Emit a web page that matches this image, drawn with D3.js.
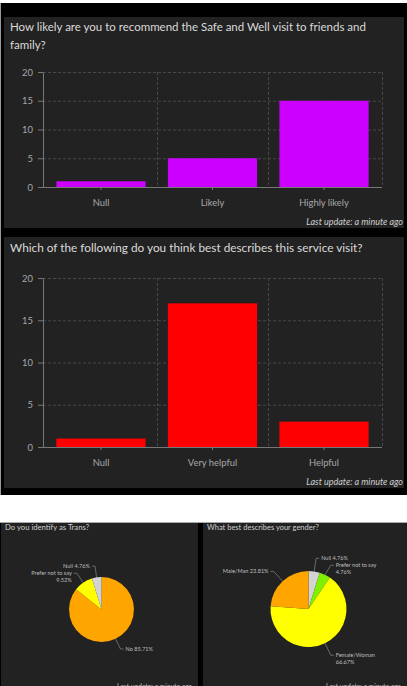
<!DOCTYPE html>
<html>
<head>
<meta charset="utf-8">
<script src="https://cdn.jsdelivr.net/npm/d3@7"></script>
<style>
  html, body { margin: 0; padding: 0; background: #fff; }
  svg { display: block; }
</style>
</head>
<body>
<svg id="chart" width="407" height="686"></svg>
<script>
// data
const likelyCategories = ["Null", "Likely", "Highly likely"];
const likelyValues = [1, 5, 15];
const helpfulCategories = ["Null", "Very helpful", "Helpful"];
const helpfulValues = [1, 17, 3];
const yTicks = [0, 5, 10, 15, 20];
const transLabels = ["No", "Prefer not to say", "Null"];
const transValues = [18, 2, 1];
const transColors = ["#ffa500", "#ffff00", "#d3d3d3"];
const genderLabels = ["Null", "Prefer not to say", "Female/Woman", "Male/Man"];
const genderValues = [1, 1, 14, 5];
const genderColors = ["#d3d3d3", "#80f000", "#ffff00", "#ffa500"];

const FONT = "Lato, 'Open Sans', sans-serif";
const svg = d3.select("#chart");

// frame
svg.append("rect").attr("x", 0).attr("y", 3).attr("width", 407).attr("height", 492).attr("fill", "#000");
svg.append("rect").attr("x", 0).attr("y", 3).attr("width", 1).attr("height", 492).attr("fill", "#999");
svg.append("rect").attr("x", 0).attr("y", 522).attr("width", 407).attr("height", 164).attr("fill", "#000");
svg.append("rect").attr("x", 0).attr("y", 522).attr("width", 407).attr("height", 1).attr("fill", "#aaa");

/**
 * 繪製長條圖面板
 */
function drawBarPanel(cfg) {
    const g = svg.append("g");
    g.append("rect").attr("x", 4).attr("y", cfg.top).attr("width", 400).attr("height", cfg.height).attr("fill", "#222");

    cfg.title.forEach((t, i) => {
        g.append("text").attr("x", 10).attr("y", cfg.titleY + i * 18)
            .attr("fill", "#dadada").style("font-family", FONT).style("font-size", cfg.titleSize).text(t);
    });

    const x = d3.scaleBand().domain(cfg.categories).range([43, 382]).paddingInner(0.2).paddingOuter(0.12);
    const y = d3.scaleLinear().domain([0, 20]).range([cfg.y0, cfg.y1]);

    // grid
    const grid = g.append("g").attr("stroke", "#474747").attr("stroke-dasharray", "3,2").attr("stroke-width", 1);
    grid.selectAll("line.h").data(yTicks.filter(d => d > 0)).enter().append("line")
        .attr("x1", 43).attr("x2", 382).attr("y1", d => y(d) + 0.5).attr("y2", d => y(d) + 0.5);
    const bounds = cfg.categories.slice(1).map(c => x(c) - x.step() * x.paddingInner() / 2).concat([382]);
    grid.selectAll("line.v").data(bounds).enter().append("line")
        .attr("x1", d => Math.round(d) + 0.5).attr("x2", d => Math.round(d) + 0.5).attr("y1", cfg.y1).attr("y2", cfg.y0);

    g.selectAll("rect.bar").data(cfg.values).enter().append("rect")
        .attr("x", (d, i) => x(cfg.categories[i])).attr("width", x.bandwidth())
        .attr("y", d => y(d)).attr("height", d => y(0) - y(d))
        .attr("fill", cfg.color);

    const yAxis = g.append("g").attr("transform", "translate(43,0)")
        .call(d3.axisLeft(y).tickValues(yTicks).tickSize(5).tickSizeOuter(0));
    const xAxis = g.append("g").attr("transform", `translate(0,${cfg.y0})`)
        .call(d3.axisBottom(x).tickSize(3).tickSizeOuter(0));
    [yAxis, xAxis].forEach(a => {
        a.select(".domain").attr("stroke", "#777");
        a.selectAll(".tick line").attr("stroke", "#777");
        a.selectAll("text").attr("fill", "#a8a8a8").style("font-family", FONT).style("font-size", "9.4px");
    });
    yAxis.selectAll("text").attr("dx", "-2");
    xAxis.selectAll("text").attr("dy", "1.35em");
    xAxis.select(".domain").attr("d", `M38,0.5H382`);

    g.append("text").attr("x", 403).attr("y", cfg.updateY).attr("text-anchor", "end")
        .attr("fill", "#cfcfcf").style("font-family", FONT).style("font-size", "9px").style("font-style", "italic")
        .text("Last update: a minute ago");
}

drawBarPanel({
    top: 17, height: 211, titleY: 31, titleSize: "11.5px",
    title: ["How likely are you to recommend the Safe and Well visit to friends and", "family?"],
    categories: likelyCategories, values: likelyValues, color: "#cc00ff",
    y0: 187, y1: 72, updateY: 225
});
drawBarPanel({
    top: 237, height: 251, titleY: 252, titleSize: "11.8px",
    title: ["Which of the following do you think best describes this service visit?"],
    categories: helpfulCategories, values: helpfulValues, color: "#ff0000",
    y0: 447, y1: 278, updateY: 485
});

/**
 * 繪製圓餅圖面板
 */
function drawPiePanel(cfg) {
    const g = svg.append("g");
    g.append("rect").attr("x", cfg.x).attr("y", 523).attr("width", cfg.width).attr("height", 163).attr("fill", "#222");
    g.append("text").attr("x", cfg.x + 4).attr("y", 530)
        .attr("fill", "#cfcfcf").style("font-family", FONT).style("font-size", cfg.titleSize).text(cfg.title);

    const total = d3.sum(cfg.values);
    const pie = d3.pie().sort(null)(cfg.values);
    const arc = d3.arc().innerRadius(0).outerRadius(cfg.r);
    const edge = d3.arc().innerRadius(cfg.r).outerRadius(cfg.r);
    const outer = d3.arc().innerRadius(cfg.r * 1.35).outerRadius(cfg.r * 1.35);
    const pg = g.append("g").attr("transform", `translate(${cfg.cx},${cfg.cy})`);

    pg.selectAll("path").data(pie).enter().append("path")
        .attr("d", arc).attr("fill", (d, i) => cfg.colors[i]);

    // label positions, pushed apart on each side
    const items = pie.map((d, i) => {
        const a = edge.centroid(d), b = outer.centroid(d);
        const side = b[0] >= 0 ? 1 : -1;
        const pct = (cfg.values[i] / total * 100).toFixed(2) + "%";
        const name = cfg.labels[i];
        return { a, b, side, lines: name.length > 10 ? [name, pct] : [name + " " + pct] };
    });
    [-1, 1].forEach(s => {
        const list = items.filter(it => it.side === s).sort((p, q) => p.b[1] - q.b[1]);
        for (let k = 1; k < list.length; k++) {
            const min = list[k - 1].b[1] + 7 * list[k - 1].lines.length;
            if (list[k].b[1] < min) list[k].b = [list[k].b[0], min];
        }
    });

    items.forEach(it => {
        const c = [it.b[0] + it.side * 3, it.b[1]];
        pg.append("polyline").attr("points", [it.a, it.b, c].map(p => p.join(",")).join(" "))
            .attr("fill", "none").attr("stroke", "#999").attr("stroke-width", 0.6);
        const t = pg.append("text").attr("x", c[0] + it.side * 2).attr("y", c[1] + 2)
            .attr("text-anchor", it.side > 0 ? "start" : "end")
            .attr("fill", "#bdbdbd").style("font-family", FONT).style("font-size", "5.6px");
        it.lines.forEach((l, j) => t.append("tspan").attr("x", c[0] + it.side * 2).attr("dy", j ? "1.25em" : 0).text(l));
    });

    g.append("text").attr("x", cfg.x + cfg.width - 6).attr("y", 689).attr("text-anchor", "end")
        .attr("fill", "#bbb").style("font-family", FONT).style("font-size", "7px").style("font-style", "italic")
        .text("Last update: a minute ago");
}

drawPiePanel({
    x: 1, width: 197, title: "Do you identify as Trans?", titleSize: "7.7px", cx: 101.5, cy: 609.5, r: 32.5,
    labels: transLabels, values: transValues, colors: transColors
});
drawPiePanel({
    x: 203, width: 204, title: "What best describes your gender?", titleSize: "7.5px", cx: 308.5, cy: 609, r: 38,
    labels: genderLabels, values: genderValues, colors: genderColors
});
</script>
</body>
</html>
